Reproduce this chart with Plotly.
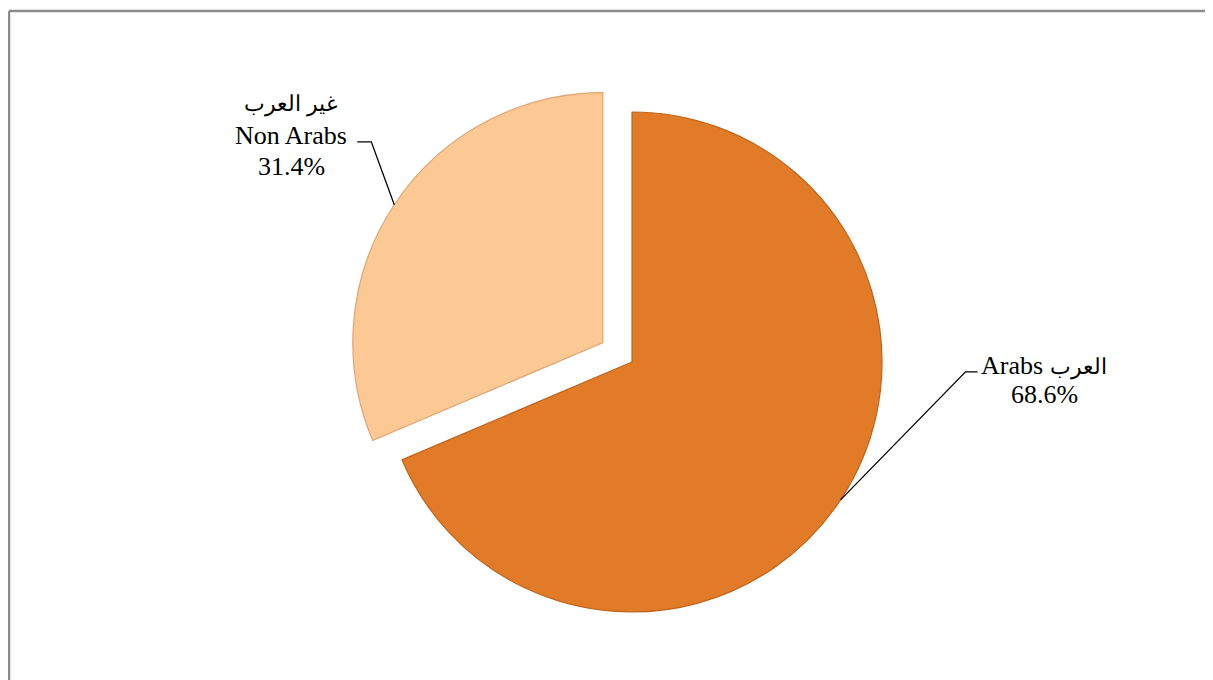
import math
import plotly.graph_objects as go

# ---- data ----
labels_ar = ["العرب", "غير العرب"]
labels_en = ["Arabs", "Non Arabs"]
values = [68.6, 31.4]
colors = ["#E27B27", "#FCC894"]
line_colors = ["#BF641E", "#DDA673"]
pulls = [0.0, 0.14]

# figure size (page has an 8px body margin)
OFF = 8
W, H = 1213 - OFF, 680 - OFF
cx, cy, R = 632 - OFF, 362 - OFF, 250   # pie centre / radius in pixels
box = R * (1 + max(pulls))               # half size of the pie domain

fig = go.Figure()
fig.add_trace(go.Pie(
    labels=labels_en,
    values=values,
    sort=False,
    direction="clockwise",
    rotation=0,
    pull=pulls,
    textinfo="none",
    hoverinfo="label+percent",
    marker=dict(colors=colors, line=dict(color=line_colors, width=1.2)),
    domain=dict(x=[(cx - box) / W, (cx + box) / W],
                y=[1 - (cy + box) / H, 1 - (cy - box) / H]),
    showlegend=False,
))


def px2paper(x, y):
    return x / W, 1 - y / H


def ar(s):
    return f"<span style='font-size:22px'>{s}</span>"


FONT = dict(family="Liberation Serif", size=26, color="#000000")
shapes = []
annotations = []
total = sum(values)
cum = 0.0
for i, v in enumerate(values):
    mid = (cum + v / 2) / total * 2 * math.pi   # clockwise from 12 o'clock
    cum += v
    dx, dy = math.sin(mid), -math.cos(mid)
    ox, oy = cx + pulls[i] * R * dx, cy + pulls[i] * R * dy
    ex, ey = ox + R * dx, oy + R * dy          # point on slice edge
    pct = f"{v / total * 100:.1f}%"
    if i == 0:
        elx, ely = ex + 125, ey - 128
        hx = elx + 12
        tx = 1044 - OFF
        lines = [(f"{labels_en[i]} {ar(labels_ar[i])}", 365 - OFF),
                 (pct, 395 - OFF)]
    else:
        elx, ely = ex - 23, ey - 63
        hx = elx - 14
        tx = 291 - OFF
        lines = [(ar(labels_ar[i]), 104 - OFF),
                 (labels_en[i], 135 - OFF),
                 (pct, 166 - OFF)]
    x1, y1 = px2paper(ex, ey)
    x2, y2 = px2paper(elx, ely)
    x3, y3 = px2paper(hx, ely)
    shapes.append(dict(type="path", xref="paper", yref="paper",
                       path=f"M {x1},{y1} L {x2},{y2} L {x3},{y3}",
                       line=dict(color="#000000", width=1.3)))
    for txt, ty in lines:
        ax, ay = px2paper(tx, ty)
        annotations.append(dict(x=ax, y=ay, xref="paper", yref="paper",
                                text=txt, showarrow=False, align="center",
                                xanchor="center", yanchor="middle",
                                font=FONT))

# chart-area frame (top and left edges visible)
fx, fy = px2paper(8 - OFF + 1, 11 - OFF)
shapes.append(dict(type="line", xref="paper", yref="paper",
                   x0=fx, y0=fy, x1=1.02, y1=fy,
                   line=dict(color="#8C8C8C", width=2.5)))
shapes.append(dict(type="line", xref="paper", yref="paper",
                   x0=fx, y0=fy, x1=fx, y1=-0.02,
                   line=dict(color="#8C8C8C", width=2.5)))

fig.update_layout(
    width=W, height=H,
    margin=dict(l=0, r=0, t=0, b=0),
    paper_bgcolor="white",
    plot_bgcolor="white",
    shapes=shapes,
    annotations=annotations,
)

fig.write_html("out.html")
